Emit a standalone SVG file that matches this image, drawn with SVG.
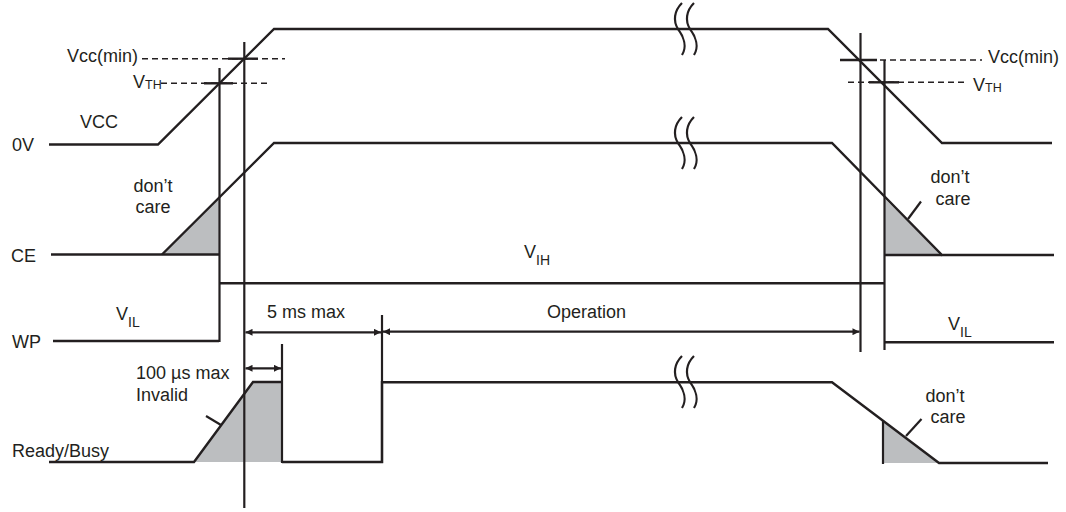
<svg xmlns="http://www.w3.org/2000/svg" width="1066" height="512" viewBox="0 0 1066 512">
<style>
.s{fill:none;stroke:#231f20;stroke-width:2.4;stroke-linejoin:miter}
.v{fill:none;stroke:#231f20;stroke-width:2.2}
.d{fill:none;stroke:#231f20;stroke-width:1.6;stroke-dasharray:6 4}
.g{fill:#bcbec0;stroke:none}
.t{font-family:"Liberation Sans",Arial,sans-serif;font-size:18px;fill:#231f20}
.sub{font-size:14px}
.sm{font-size:12.5px}
.br{fill:none;stroke:#231f20;stroke-width:2.2}
</style>
<defs>
<marker id="ah" viewBox="0 0 10 10" refX="10" refY="5" markerWidth="8" markerHeight="7" markerUnits="userSpaceOnUse" orient="auto-start-reverse">
<path d="M0,0 L10,5 L0,10 z" fill="#231f20"/>
</marker>
<path id="brk" d="M2,-26 C-6,-18 -7,-8 -2,0 C4,8 7,18 2,26"/>
</defs>
<rect width="1066" height="512" fill="#fff"/>

<g id="fills">
<polygon class="g" points="162,254.5 219,197.5 219,254.5"/>
<polygon class="g" points="884,198 884,255 942,255"/>
<polygon class="g" points="194,462 253,382 282,382 282,462"/>
<polygon class="g" points="883,421 883,463 939,463"/>
</g>

<g id="vcc">
<polyline class="s" points="49,144.5 158,144.5 274,29 828,29 942,143 1052,143"/>
<text class="t" x="12" y="151">0V</text>
<text class="t" x="80" y="128">VCC</text>
</g>

<g id="ce">
<polyline class="s" points="51,254.5 219,254.5"/>
<polyline class="s" points="162,254.5 274,143 832,143 942,255 1054,255"/>
<line class="s" x1="884" y1="255" x2="942" y2="255"/>
<text class="t" x="11" y="262">CE</text>
<text class="t" x="153" y="192" text-anchor="middle">don’t</text>
<text class="t" x="153" y="213" text-anchor="middle">care</text>
<text class="t" x="950" y="183" text-anchor="middle">don’t</text>
<text class="t" x="953" y="205" text-anchor="middle">care</text>
<line class="v" x1="921" y1="201.5" x2="908" y2="219"/>
<text class="t" x="524" y="258">V<tspan class="sub" dy="7">IH</tspan></text>
</g>

<g id="wp">
<polyline class="s" points="53,341 219,341"/>
<polyline class="s" points="219,283.3 884,283.3"/>
<polyline class="s" points="884,342.3 1054,342.3"/>
<text class="t" x="12" y="348">WP</text>
<text class="t" x="116" y="320">V<tspan class="sub" dy="7">IL</tspan></text>
<text class="t" x="948" y="330">V<tspan class="sub" dy="7">IL</tspan></text>
</g>

<g id="ready-busy">
<polyline class="s" points="49,462 194,462 253,382 282,382"/>
<polyline class="s" points="282,462 382,462 382,382.3 832,382.3 939,463 1048,463"/>
<line class="v" x1="282" y1="344" x2="282" y2="463"/>
<line class="v" x1="382" y1="315" x2="382" y2="463"/>
<line class="v" x1="883" y1="421" x2="883" y2="464"/>
<text class="t" x="12" y="457">Ready/Busy</text>
<text class="t" x="136" y="379">100 µs max</text>
<text class="t" x="136" y="401">Invalid</text>
<line class="v" x1="206" y1="416" x2="221" y2="425"/>
<text class="t" x="945" y="402" text-anchor="middle">don’t</text>
<text class="t" x="948" y="423" text-anchor="middle">care</text>
<line class="v" x1="921.5" y1="419" x2="906" y2="436"/>
</g>

<g id="thresholds">
<line class="d" x1="142" y1="58.7" x2="285" y2="58.7"/>
<line class="d" x1="161" y1="83.3" x2="271" y2="83.3"/>
<line class="s" x1="228" y1="58.7" x2="258" y2="58.7"/>
<line class="s" x1="204" y1="83.3" x2="233" y2="83.3"/>
<text class="t" x="138" y="62" text-anchor="end">Vcc(min)</text>
<text class="t" x="133" y="88">V<tspan class="sm" dy="1">TH</tspan></text>
<line class="d" x1="840" y1="60" x2="982" y2="60"/>
<line class="d" x1="848" y1="82.3" x2="968" y2="82.3"/>
<line class="s" x1="840" y1="60" x2="877" y2="60"/>
<line class="s" x1="869" y1="82.3" x2="899" y2="82.3"/>
<text class="t" x="988" y="63">Vcc(min)</text>
<text class="t" x="973" y="91">V<tspan class="sm" dy="1">TH</tspan></text>
</g>

<g id="connectors">
<line class="v" x1="219.5" y1="68" x2="219.5" y2="342"/>
<line class="v" x1="244.3" y1="42" x2="244.3" y2="508"/>
<line class="v" x1="860.5" y1="33" x2="860.5" y2="352"/>
<line class="v" x1="884.5" y1="60" x2="884.5" y2="350"/>
<line class="v" x1="245.5" y1="332.3" x2="381" y2="332.3" marker-start="url(#ah)" marker-end="url(#ah)"/>
<line class="v" x1="383" y1="331.7" x2="859.5" y2="331.7" marker-start="url(#ah)" marker-end="url(#ah)"/>
<line class="v" x1="245.5" y1="368.3" x2="281" y2="368.3" marker-start="url(#ah)" marker-end="url(#ah)"/>
<text class="t" x="267" y="318">5 ms max</text>
<text class="t" x="547" y="318">Operation</text>
</g>

<g id="breaks">
<use href="#brk" class="br" x="680" y="29"/>
<use href="#brk" class="br" x="692" y="29"/>
<use href="#brk" class="br" x="680" y="143"/>
<use href="#brk" class="br" x="692" y="143"/>
<use href="#brk" class="br" x="680" y="382"/>
<use href="#brk" class="br" x="692" y="382"/>
</g>
</svg>
